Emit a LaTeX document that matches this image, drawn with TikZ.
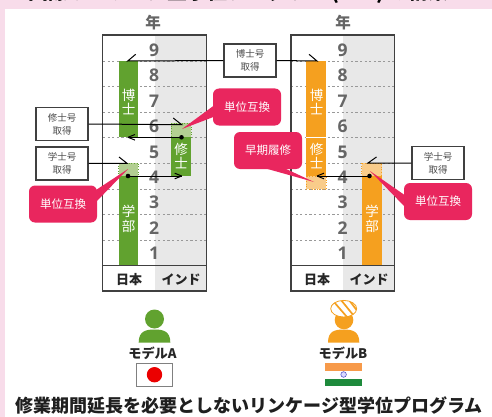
\documentclass[tikz,border=0pt]{standalone}
\usepackage{fontspec}
\newfontfamily\jp{Noto Sans CJK JP}
\setmainfont{Open Sans}
\definecolor{grn}{HTML}{61A22F}
\definecolor{lgrn}{HTML}{B3CF92}
\definecolor{org}{HTML}{F5A01F}
\definecolor{lorg}{HTML}{F9CC8A}
\definecolor{pnk}{HTML}{E9265E}
\definecolor{gry}{HTML}{E8E8E8}
\definecolor{edge}{HTML}{404040}
\definecolor{numc}{HTML}{666666}
\definecolor{band}{HTML}{F8DCEA}
\definecolor{indg}{HTML}{1E8A3C}
\definecolor{indo}{HTML}{F79A4A}
\tikzset{x=1pt,y=-1pt,
 frame/.style={draw=edge,line width=1.2pt},
 yrline/.style={draw=gray!80,line width=0.7pt,dash pattern=on 2.2pt off 2.4pt},
 num/.style={text=numc,font=\fontsize{17.5}{18}\selectfont\bfseries},
 lbl/.style={text=white,font=\jp\fontsize{13.5}{14.5}\selectfont,align=center,inner sep=0pt},
 degbox/.style={draw=edge,fill=white,line width=1.1pt,minimum width=52pt,minimum height=33pt,inner sep=0pt,font=\jp\fontsize{9.5}{13}\selectfont,align=center,text=black!70},
 call/.style={fill=pnk,rounded corners=6pt,text=white,font=\jp\fontsize{11.5}{12}\selectfont,minimum width=68pt,minimum height=37pt,inner sep=0pt},
 conn/.style={draw=black,line width=1pt},
 head/.style={font=\jp\bfseries\fontsize{13}{14}\selectfont,text=black!85},
 yearh/.style={font=\jp\bfseries\fontsize{15.5}{16}\selectfont,text=numc},
 person/.style={font=\jp\bfseries\fontsize{13.2}{13}\selectfont,text=black!85},
 softgrn/.style={draw=grn,dotted,line width=.6pt},
 softorg/.style={draw=org,dotted,line width=.6pt},
}
\begin{document}
\begin{tikzpicture}
\useasboundingbox (0,0) rectangle (492,417);
\fill[white] (0,0) rectangle (492,417);
\fill[band] (0,0) rectangle (492,9.3);
\fill[band] (0,0) rectangle (4.5,417);
\node[font=\jp\bfseries\fontsize{20}{20}\selectfont,anchor=west,inner sep=0pt] (title) at (28,-7) {国際リンケージ型学位プログラム (2+3) の構築};

% chart backgrounds
\fill[gry] (154.5,35) rectangle (206.5,291);
\fill[gry] (342.7,35) rectangle (394.7,291);
\foreach \y in {61,86,112,137,163,189,214,240}{
 \draw[yrline] (103,\y) -- (206,\y);
 \draw[yrline] (291,\y) -- (394,\y);
}
% bars left
\fill[grn] (118.7,61) rectangle (138.3,137.3);
\fill[grn] (118.7,163) rectangle (138.3,265);
\fill[lgrn] (118.7,163) rectangle (138.3,176);
\draw[softgrn] (118.7,163) rectangle (138.3,176);
\fill[grn] (171.3,123) rectangle (191,176);
\fill[lgrn] (171.3,123) rectangle (191,137.3);
\draw[softgrn] (171.3,123) rectangle (191,137.3);
% bars right
\fill[org] (306.3,61) rectangle (326.3,189);
\draw[white,line width=.9pt] (306.3,137) -- (326.3,137);
\fill[lorg] (306.3,176) rectangle (326.3,189);
\draw[softorg] (306.3,176) rectangle (326.3,189);
\fill[org] (361.7,163) rectangle (381.7,265);
\fill[lorg] (361.7,163) rectangle (381.7,176);
\draw[softorg] (361.7,163) rectangle (381.7,176);
% numbers
\foreach \x in {154,342.7}{
 \foreach \n/\y in {9/50,8/75,7/101,6/126,5/152,4/177,3/202,2/228,1/253}{
  \node[num] at (\x,\y) {\n};
 }
}
% frames
\draw[frame] (102.7,35) rectangle (206.5,291);
\draw[frame] (102.7,265.5) -- (206.5,265.5);
\draw[frame] (291,35) rectangle (394.7,291);
\draw[frame] (291,265.5) -- (394.7,265.5);
% bar labels
\node[lbl] at (128.5,102) {博\\士};
\node[lbl] at (128.5,219) {学\\部};
\node[lbl] at (181,156) {修\\士};
\node[lbl] at (316.5,102) {博\\士};
\node[lbl] at (316.5,156) {修\\士};
\node[lbl] at (372,219) {学\\部};
% headers
\node[yearh] (yl) at (153,23) {年};
\node[yearh] (yr) at (343,23) {年};
\node[head] at (129,280) {日本};
\node[head] at (181,280) {インド};
\node[head] at (317,280) {日本};
\node[head] at (369,280) {インド};
% degree boxes
\node[degbox] (d1) at (250,60.5) {博士号\\取得};
\node[degbox] (m1) at (62,124) {修士号\\取得};
\node[degbox] (b1) at (62,163.5) {学士号\\取得};
\node[degbox] (b2) at (438,163) {学士号\\取得};
% connector ends
\coordinate (t1) at (127.7,61);
\coordinate (t2) at (317,61);
\coordinate (t3) at (181.7,124.7);
\coordinate (t4) at (127,163.3);
\coordinate (t5) at (368,163);
\coordinate (s1) at (181.5,137.3);
\coordinate (e1) at (128,137.3);
\coordinate (s2) at (128,176);
\coordinate (e2) at (181.7,176);
\coordinate (s3) at (369.5,176);
\coordinate (e3) at (317,176);
\draw[conn] (d1.west) -- (t1) -- ++(8,-6.7);
\draw[conn] (d1.east) -- (t2) -- ++(-8,-6.7);
\draw[conn] (m1.east) -- (t3) -- ++(-8.5,-6.7);
\draw[conn] (b1.east) -- (t4) -- ++(-8,-6.3);
\draw[conn] (b2.west) -- (t5) -- ++(8.5,-6);
\draw[conn,line width=1.4pt] (s1) -- (e1);
\draw[conn] (e1) -- ++(7,-2.8) (e1) -- ++(7,2.8);
\draw[conn] (s2) -- (e2);
\draw[conn] (e2) -- ++(-7,-2.8) (e2) -- ++(-7,2.8);
\draw[conn] (s3) -- (e3);
\draw[conn] (e3) -- ++(7,-2.8) (e3) -- ++(7,2.8);
\fill (s1) circle (2.3pt) (s2) circle (2.3pt) (s3) circle (2.3pt);
% callouts
\fill[pnk] (216,104) -- (182,129) -- (216,116) -- cycle;
\node[call] (c1) at (247,107) {単位互換};
\fill[pnk] (96,190) -- (128,169) -- (96,202) -- cycle;
\node[call] (c2) at (63,204) {単位互換};
\fill[pnk] (264,168) -- (314,182) -- (284,168) -- cycle;
\node[call] (c3) at (268,150.5) {早期履修};
\fill[pnk] (406,196) -- (370,171) -- (406,208) -- cycle;
\node[call] (c4) at (438,201.5) {単位互換};
% person A
\fill[grn] (154.5,319) circle (9.5pt);
\fill[grn] (138.7,342.5) .. controls (138.7,331) and (146,329.5) .. (154.5,329.5) .. controls (163,329.5) and (170.3,331) .. (170.3,342.5) -- cycle;
\node[person] (pa) at (152.5,353) {モデルA};
\draw[gray,line width=1pt,fill=white] (136.3,363) rectangle (172.8,386);
\fill[red!92!black] (154.5,374.7) circle (7.7pt);
% person B
\fill[org] (344,320) circle (9.3pt);
\fill[org] (328,342.5) .. controls (328,331) and (335,329.5) .. (343.7,329.5) .. controls (352,329.5) and (359.3,331) .. (359.3,342.5) -- cycle;
\begin{scope}
\path[clip] (343.7,308.7) ellipse (13pt and 8.3pt);
\fill[white] (330,300) rectangle (358,318);
\draw[org,line width=1.7pt] (334,302) -- (347,317) (341,300) -- (354,316) (349,300) -- (358,312);
\end{scope}
\draw[org,line width=.8pt] (343.7,308.7) ellipse (13pt and 8.3pt);
\node[person] (pb) at (343,353) {モデルB};
\fill[indo] (325.3,363) rectangle (362,370.5);
\fill[indg] (325.3,378.5) rectangle (362,386);
\draw[blue!50!gray,line width=.5pt,fill=blue!15] (343.6,374.5) circle (2.8pt);
% caption
\node[font=\jp\bfseries\fontsize{18}{18}\selectfont,text=black!88] (cap) at (249,406) {修業期間延長を必要としないリンケージ型学位プログラム};
\end{tikzpicture}
\end{document}
